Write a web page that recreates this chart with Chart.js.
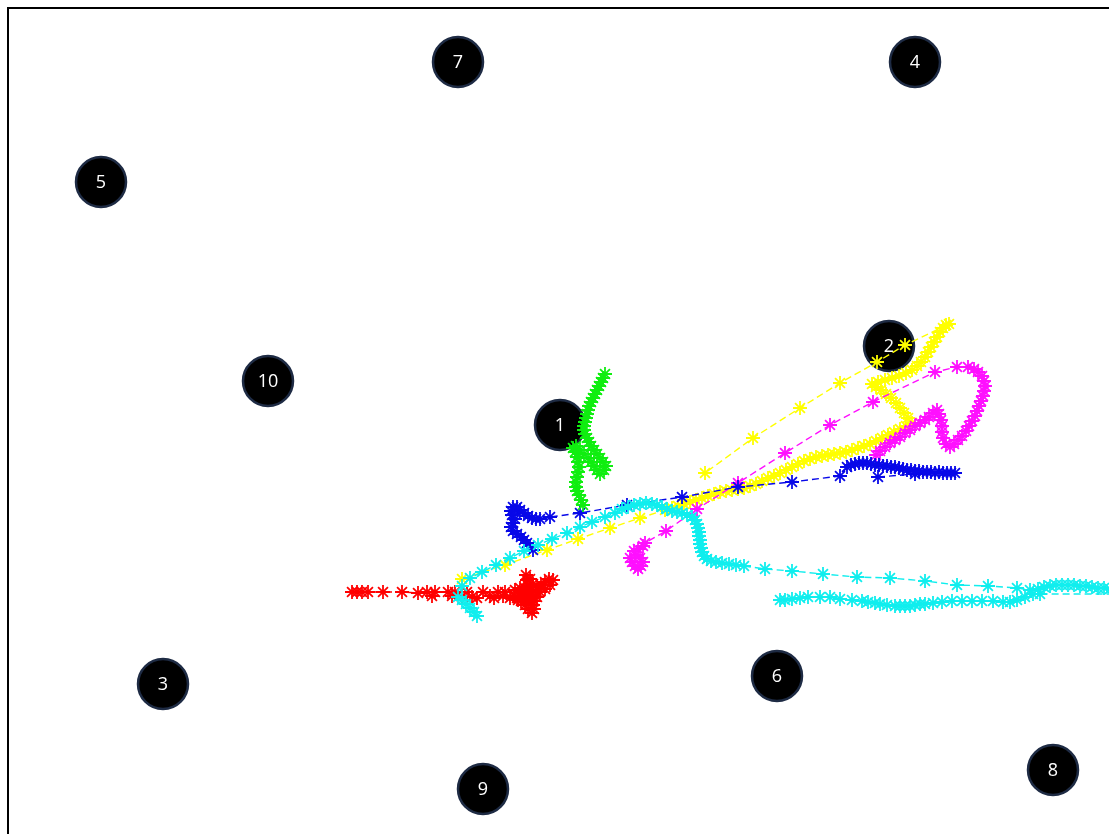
<!DOCTYPE html>
<html><head><meta charset="utf-8">
<script src="https://cdn.jsdelivr.net/npm/chart.js@4"></script>
<style>html,body{margin:0;padding:0;background:#fff;overflow:hidden}canvas{display:block}</style>
</head><body>
<canvas id="c" width="1109" height="834"></canvas>
<script>
// Anchor nodes
const nodeLabels = ['1','2','3','4','5','6','7','8','9','10'];
const nodeX = [560, 889, 163, 915, 101, 777, 458, 1053, 483, 268];
const nodeY = [425, 346, 684, 62, 182, 676, 62, 770, 789, 381];

// Trajectories (x, y in plot units)
const greenPath = [[605,374],[603,378],[601,382],[599,386],[597,390],[595,394],[593,398],[591,402],[589,406],[588,410],[587,414],[586,418],[585,422],[584,426],[584,430],[585,434],[587,438],[589,442],[591,446],[594,450],[597,454],[600,458],[603,462],[606,466],[604,470],[600,474],[597,470],[594,466],[591,462],[588,458],[584,454],[580,450],[576,446],[573,448],[575,452],[577,457],[578,462],[579,467],[578,472],[577,477],[576,482],[576,487],[577,491],[579,495],[581,500],[583,505]];

const redPath = [[352,592],[357,592],[362,592],[368,592],[383,592],[402,592],[418,593],[427,592],[432,596],[435,592],[448,592],[452,596],[455,592],[462,596],[467,592],[472,597],[477,598],[483,592],[490,596],[494,598],[498,592],[503,596],[505,592],[510,598],[514,596],[515,590],[520,588],[525,588],[530,590],[526,594],[521,596],[518,600],[522,596],[526,592],[528,586],[527,580],[526,575],[530,579],[533,584],[537,587],[541,585],[545,582],[549,579],[553,580],[550,585],[545,589],[540,592],[537,597],[534,601],[533,605],[534,609],[532,613],[528,609],[525,605],[521,601],[517,598],[520,596],[525,599],[529,602],[533,597],[537,592]];

const cyanPath = [[477,616],[474,612],[470,608],[466,604],[462,600],[458,597],[462,586],[470,578],[482,572],[496,565],[510,558],[524,551],[538,545],[552,539],[567,533],[580,527],[592,522],[605,517],[615,513],[622,509],[628,507],[634,505],[640,504],[646,503],[652,504],[657,505],[662,507],[667,509],[672,511],[677,512],[682,513],[687,515],[692,517],[695,520],[697,524],[698,528],[699,532],[699,536],[700,540],[700,544],[701,548],[702,552],[704,556],[707,559],[711,561],[716,562],[722,563],[729,564],[736,565],[744,566],[765,569],[792,571],[823,574],[857,577],[890,578],[925,581],[957,585],[988,586],[1017,588],[1030,590],[1038,589],[1044,587],[1050,586],[1056,585],[1062,585],[1068,585],[1074,585],[1080,586],[1086,586],[1092,587],[1098,588],[1104,588],[1110,589],[1125,590],[1120,594],[1040,594],[1033,594],[1025,597],[1017,600],[1010,602],[1003,602],[993,601],[982,601],[972,601],[962,601],[952,601],[942,602],[933,603],[925,604],[920,604],[915,605],[910,606],[905,606],[900,606],[895,606],[887,605],[880,604],[875,603],[868,602],[862,601],[852,600],[840,599],[830,597],[820,597],[808,597],[800,598],[792,599],[785,600],[780,600]];

const magentaPath = [[630,558],[632,562],[635,566],[638,569],[641,566],[643,562],[640,558],[636,555],[634,551],[638,549],[643,546],[645,543],[666,531],[697,509],[738,483],[785,453],[830,425],[873,402],[935,372],[957,367],[968,367],[974,369],[978,372],[982,376],[984,381],[985,386],[984,391],[983,396],[981,401],[979,406],[977,411],[975,416],[972,421],[969,426],[966,431],[962,436],[958,440],[954,444],[950,447],[946,444],[943,438],[942,432],[942,426],[941,420],[939,414],[937,410],[933,413],[929,417],[925,420],[920,423],[915,426],[910,430],[905,433],[900,437],[895,440],[890,443],[885,447],[880,451],[876,455]];

const yellowPath = [[462,579],[505,565],[547,550],[578,539],[610,528],[640,518],[665,510],[672,508],[678,506],[684,504],[690,502],[696,500],[702,498],[708,496],[714,494],[720,492],[726,491],[732,490],[738,489],[744,488],[750,486],[756,484],[762,481],[768,478],[774,476],[780,473],[786,470],[792,467],[798,464],[804,461],[810,459],[816,457],[822,456],[828,455],[834,454],[840,453],[846,452],[852,450],[858,448],[864,446],[870,444],[876,441],[882,438],[888,435],[894,432],[900,429],[906,426],[912,423],[908,418],[904,413],[900,408],[896,403],[891,398],[886,394],[881,390],[876,387],[872,384],[878,382],[885,380],[892,378],[899,376],[906,373],[912,370],[917,366],[921,362],[925,357],[928,352],[931,347],[934,342],[937,337],[940,332],[943,328],[946,325],[949,324],[905,345],[877,362],[840,383],[800,408],[753,438],[705,473]];

const bluePath = [[878,477],[915,474],[955,473],[951,473],[947,473],[943,473],[939,472],[935,473],[931,472],[927,472],[923,472],[919,471],[915,471],[911,470],[907,470],[903,469],[899,468],[895,467],[891,467],[887,466],[883,466],[879,465],[875,465],[871,464],[867,463],[863,463],[859,463],[855,464],[851,465],[847,467],[840,476],[792,482],[738,487],[682,497],[627,505],[580,513],[550,517],[540,519],[536,519],[532,518],[528,516],[524,513],[520,510],[517,507],[513,507],[511,511],[512,515],[515,519],[513,523],[511,527],[513,531],[517,534],[521,537],[524,540],[527,543],[530,546],[533,550]];

const seriesNames  = ['cyan','green','blue','magenta','yellow','red'];
const seriesColors = ['#10eeee','#10ee10','#0808e8','#ff10ff','#ffff00','#ff0000'];
const seriesData   = [cyanPath, greenPath, bluePath, magentaPath, yellowPath, redPath];

const toPts = a => a.map(p => ({x: p[0], y: p[1]}));

const datasets = seriesData.map((d, i) => ({
  label: seriesNames[i],
  data: toPts(d),
  showLine: true,
  borderColor: seriesColors[i],
  backgroundColor: seriesColors[i],
  borderWidth: 1.4,
  borderDash: [7, 4],
  pointStyle: 'star',
  pointRadius: 7,
  pointBorderWidth: 1.8,
  pointBorderColor: seriesColors[i],
  pointBackgroundColor: seriesColors[i],
  order: i
}));

datasets.push({
  label: 'nodes',
  data: nodeX.map((x, i) => ({x: x, y: nodeY[i]})),
  showLine: false,
  pointStyle: 'circle',
  pointRadius: 25,
  pointBorderWidth: 2.5,
  pointBackgroundColor: '#000000',
  pointBorderColor: '#1e2b44',
  order: 100
});

const framePlugin = {
  id: 'frame',
  beforeDraw(chart) {
    const ctx = chart.ctx;
    ctx.save();
    ctx.fillStyle = '#ffffff';
    ctx.fillRect(0, 0, chart.width, chart.height);
    ctx.strokeStyle = '#000000';
    ctx.lineWidth = 2;
    ctx.beginPath();
    ctx.moveTo(8, chart.height + 5);
    ctx.lineTo(8, 8);
    ctx.lineTo(chart.width + 5, 8);
    ctx.stroke();
    ctx.restore();
  },
  afterDatasetDraw(chart, args) {
    if (chart.data.datasets[args.index].label !== 'nodes') return;
    const meta = args.meta;
    const ctx = chart.ctx;
    ctx.save();
    ctx.fillStyle = '#ffffff';
    ctx.font = '18px "Open Sans", "DejaVu Sans", sans-serif';
    ctx.textAlign = 'center';
    ctx.textBaseline = 'middle';
    meta.data.forEach((el, i) => {
      ctx.fillText(nodeLabels[i], el.x, el.y + 1);
    });
    ctx.restore();
  }
};

new Chart(document.getElementById('c'), {
  type: 'scatter',
  data: { datasets: datasets },
  options: {
    responsive: false,
    animation: false,
    devicePixelRatio: 1,
    layout: { padding: 0, autoPadding: false },
    plugins: { legend: { display: false }, tooltip: { enabled: false } },
    scales: {
      x: { type: 'linear', min: 0, max: 1109, display: false },
      y: { type: 'linear', min: 0, max: 834, reverse: true, display: false }
    }
  },
  plugins: [framePlugin]
});
</script>
</body></html>
